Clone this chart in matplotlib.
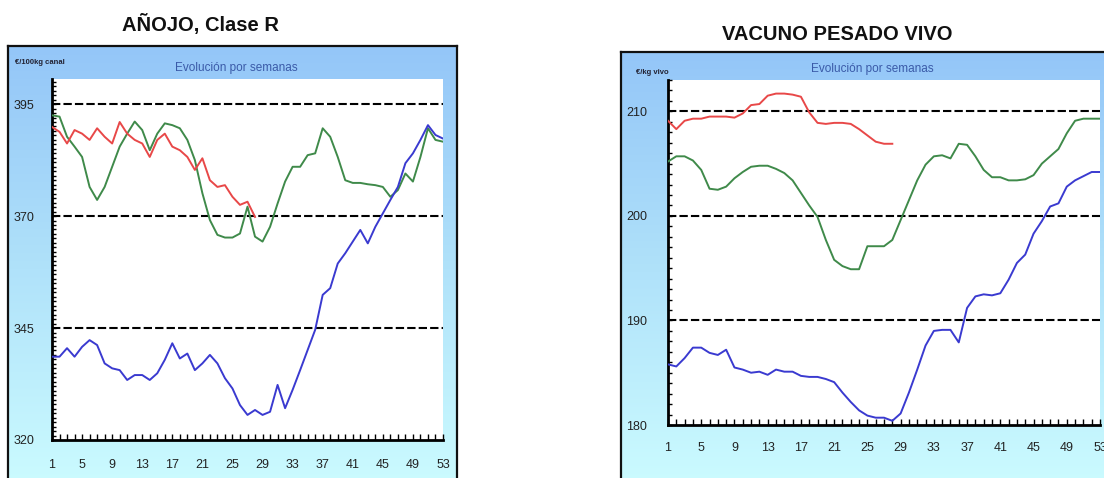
import numpy as np
import matplotlib
matplotlib.use('Agg')
import matplotlib.pyplot as plt
from matplotlib.colors import LinearSegmentedColormap
from matplotlib.ticker import MultipleLocator, FixedLocator

plt.rcParams['font.family'] = ['Liberation Sans', 'DejaVu Sans']

# ---------------- data ----------------
weeks = list(range(1, 54))
week_labels = [1, 5, 9, 13, 17, 21, 25, 29, 33, 37, 41, 45, 49, 53]

anojo_title = "AÑOJO, Clase R"
anojo_unit = "€/100kg canal"
anojo_yticks = [320, 345, 370, 395]
anojo_red = [389.9, 388.8, 386.2, 389.2, 388.4, 387.0, 389.6, 387.7, 386.2, 391.0,
             388.4, 387.0, 386.2, 383.2, 387.0, 388.4, 385.5, 384.7, 383.2, 380.3,
             382.9, 378.0, 376.5, 376.9, 374.3, 372.5, 373.2, 369.8]
anojo_green = [392.5, 392.2, 387.7, 385.5, 383.2, 376.5, 373.6, 376.5, 381.0, 385.5,
               388.4, 391.1, 389.2, 384.7, 388.4, 390.7, 390.3, 389.6, 387.0, 382.5,
               375.1, 369.1, 365.8, 365.2, 365.2, 366.1, 372.1, 365.4, 364.3, 367.6,
               372.8, 377.7, 381.0, 381.0, 383.6, 384.0, 389.6, 387.7, 383.2, 378.0,
               377.4, 377.4, 377.1, 376.9, 376.5, 374.3, 375.8, 379.5, 377.7, 383.2,
               389.6, 387.0, 386.6]
anojo_blue = [338.6, 338.6, 340.5, 338.6, 340.8, 342.3, 341.2, 337.1, 336.0, 335.6,
              333.4, 334.5, 334.5, 333.4, 334.9, 337.9, 341.6, 338.2, 339.3, 335.6,
              337.1, 339.0, 337.1, 333.8, 331.5, 327.8, 325.6, 326.7, 325.6, 326.3,
              332.3, 327.1, 331.2, 335.6, 340.1, 344.6, 352.4, 353.9, 359.4, 361.7,
              364.3, 366.9, 363.9, 367.6, 370.6, 373.6, 376.5, 381.8, 384.0, 387.0,
              390.3, 388.1, 387.3]

vac_title = "VACUNO PESADO VIVO"
vac_unit = "€/kg vivo"
vac_yticks = [180, 190, 200, 210]
vac_red = [209.1, 208.3, 209.1, 209.3, 209.3, 209.5, 209.5, 209.5, 209.4, 209.8,
           210.6, 210.7, 211.5, 211.7, 211.7, 211.6, 211.4, 209.9, 208.9, 208.8,
           208.9, 208.9, 208.8, 208.3, 207.7, 207.1, 206.9, 206.9]
vac_green = [205.2, 205.7, 205.7, 205.3, 204.4, 202.6, 202.5, 202.8, 203.6, 204.2,
             204.7, 204.8, 204.8, 204.5, 204.1, 203.4, 202.2, 201.0, 199.9, 197.7,
             195.8, 195.2, 194.9, 194.9, 197.1, 197.1, 197.1, 197.7, 199.6, 201.5,
             203.4, 204.9, 205.7, 205.8, 205.5, 206.9, 206.8, 205.7, 204.4, 203.7,
             203.7, 203.4, 203.4, 203.5, 203.9, 205.0, 205.7, 206.4, 207.9, 209.1,
             209.3, 209.3, 209.3]
vac_blue = [185.8, 185.6, 186.4, 187.4, 187.4, 186.9, 186.7, 187.2, 185.5, 185.3,
            185.0, 185.1, 184.8, 185.3, 185.1, 185.1, 184.7, 184.6, 184.6, 184.4,
            184.1, 183.1, 182.2, 181.4, 180.9, 180.7, 180.7, 180.4, 181.1, 183.1,
            185.3, 187.6, 189.0, 189.1, 189.1, 187.9, 191.2, 192.3, 192.5, 192.4,
            192.6, 193.9, 195.5, 196.3, 198.3, 199.5, 200.9, 201.2, 202.8, 203.4,
            203.8, 204.2, 204.2]

# ---------------- layout helpers ----------------
W, H = 1104, 478
fig = plt.figure(figsize=(W / 100, H / 100), dpi=100)


def box(l, t, r, b):
    return [l / W, 1 - b / H, (r - l) / W, (b - t) / H]


grad = LinearSegmentedColormap.from_list(
    'g', [(0.0, '#94c6f8'), (0.5, '#b0e2fa'), (1.0, '#ccfcff')])

RED = '#e84848'
GREEN = '#3f8a4a'
BLUE = '#3a3ad0'


def panel(frame, plot, title, title_xy, unit, unit_xy, sub_y, ylim, yticks,
          red, green, blue, label_pad, xpad):
    # frame with gradient
    fa = fig.add_axes(box(*frame))
    fa.imshow(np.linspace(0, 1, 256).reshape(-1, 1), cmap=grad, aspect='auto',
              extent=[0, 1, 0, 1], origin='upper')
    fa.set_xlim(0, 1)
    fa.set_ylim(0, 1)
    fa.set_xticks([])
    fa.set_yticks([])
    for s in fa.spines.values():
        s.set_linewidth(1.6)
        s.set_color('#111111')

    fig.text(title_xy[0] / W, 1 - title_xy[1] / H, title, ha='center', va='center',
             fontsize=14.5, fontweight='bold', color='#111111')
    fig.text(unit_xy[0] / W, 1 - unit_xy[1] / H, unit, ha='left', va='center',
             fontsize=5.5, fontweight='bold', color='#222233')
    fcx = (frame[0] + frame[2]) / 2 + 4
    fig.text(fcx / W, 1 - sub_y / H, "Evolución por semanas", ha='center',
             va='center', fontsize=8.5, color='#3a5aa8')

    ax = fig.add_axes(box(*plot))
    ax.set_facecolor('white')
    ax.plot(weeks[:len(red)], red, color=RED, lw=1.4, zorder=4)
    ax.plot(weeks[:len(green)], green, color=GREEN, lw=1.4, zorder=3)
    ax.plot(weeks[:len(blue)], blue, color=BLUE, lw=1.4, zorder=3)
    ax.set_xlim(1, 53)
    ax.set_ylim(*ylim)
    for v in yticks[1:]:
        ax.axhline(v, color='black', lw=1.5, ls=(0, (4, 1.5)), zorder=2)
    ax.yaxis.set_major_locator(FixedLocator(yticks))
    ax.yaxis.set_minor_locator(MultipleLocator(1))
    ax.xaxis.set_major_locator(FixedLocator(week_labels))
    ax.xaxis.set_minor_locator(MultipleLocator(1))
    ax.set_xticklabels([str(w) for w in week_labels])
    ax.set_yticklabels([str(v) for v in yticks])
    for s in ['top', 'right']:
        ax.spines[s].set_visible(False)
    for s in ['left', 'bottom']:
        ax.spines[s].set_linewidth(2.0)
        ax.spines[s].set_color('black')
    ax.tick_params(axis='both', which='both', direction='in', color='black')
    ax.tick_params(axis='x', which='both', length=4, width=1.0, pad=xpad,
                   labelsize=9, labelcolor='#222222')
    ax.tick_params(axis='y', which='both', length=3, width=1.0, pad=label_pad,
                   labelsize=9, labelcolor='#222222')
    for lab in ax.get_yticklabels():
        lab.set_horizontalalignment('left')
    return ax


panel((8, 46, 457, 492), (52, 79, 443, 440), anojo_title, (200, 25),
      anojo_unit, (15, 63), 68, (320, 400.6), anojo_yticks,
      anojo_red, anojo_green, anojo_blue, label_pad=28, xpad=14)

panel((621, 52, 1116, 492), (668, 80, 1100, 425), vac_title, (837, 34),
      vac_unit, (636, 72), 69, (180, 213), vac_yticks,
      vac_red, vac_green, vac_blue, label_pad=30, xpad=12)

fig.savefig('out.png', dpi=100)
